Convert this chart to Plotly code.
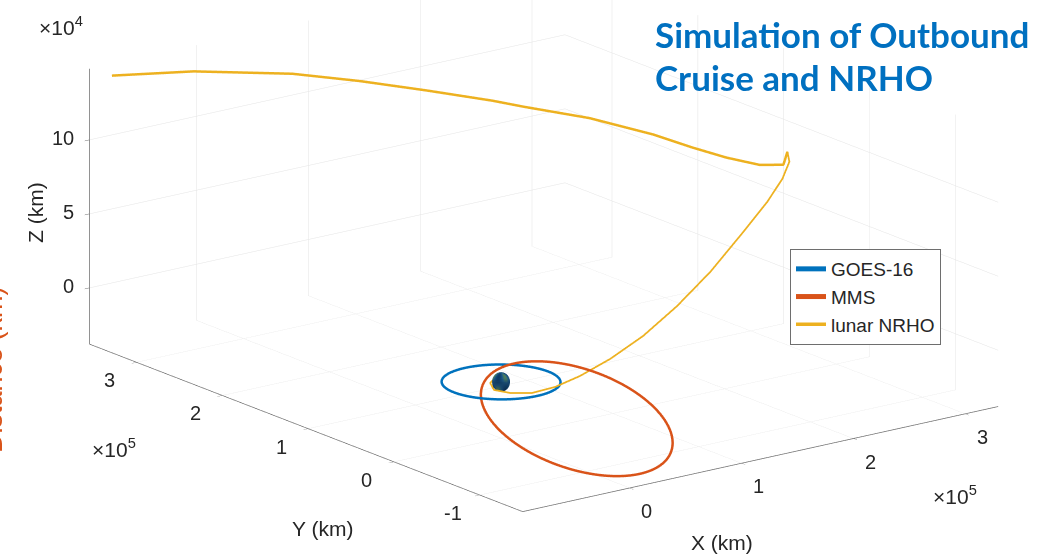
import numpy as np
import plotly.graph_objects as go

# ---------------- data ----------------
EARTH_RADIUS_KM = 6378.0

# GOES-16 (geostationary)
goes_radius_km = 42164.0
goes_inclination_deg = 0.0

# MMS highly elliptical orbit (elements)
mms_semimajor_km = 83000.0
mms_eccentricity = 0.86
mms_inclination_deg = 27.8
mms_raan_deg = 301.0
mms_argp_deg = 159.0

# lunar NRHO outbound cruise trajectory waypoints (km)
nrho_x_km = [6600, -7700, -15800, -11100, 1400, 19000, 42900, 69800, 100600,
             140200, 183000, 234600, 272800, 302200, 318200, 327500, 321300,
             323300, 313600, 302300, 287500, 260400, 228800, 211600, 172800,
             128900, 80400, -3300, -86600]
nrho_y_km = [13200, 2700, -12400, -25000, -34300, -38200, -36200, -36200, -34500,
             -22600, -5400, 23300, 45200, 65900, 78600, 93000, 89600,
             119800, 145700, 170700, 198000, 236300, 270900, 285900, 312200,
             333200, 348300, 354000, 340700]
nrho_z_km = [0, 0, 0, 0, 0, 2000, 5000, 12000, 22000,
             33000, 45000, 57000, 66000, 72000, 78000, 80000, 73000,
             65800, 66500, 69600, 74900, 81800, 86900, 90600, 98100,
             107100, 116700, 131000, 145000]
nrho_arrival_index = 15   # start of the NRHO (Moon-following) part

x_range = [-95800, 329500]
y_range = [-150000, 354800]
z_range = [-38000, 148000]
x_ticks = [0, 100000, 200000, 300000]
x_ticklabels = ['0', '1', '2', '3']
y_ticks = [-100000, 0, 100000, 200000, 300000]
y_ticklabels = ['-1', '0', '1', '2', '3']
z_ticks = [0, 50000, 100000]
z_ticklabels = ['0', '5', '10']

C_BLUE = '#0072BD'
C_ORANGE = '#D95319'
C_YELLOW = '#EDB120'


def kepler_orbit(a, e, inc, raan, argp, n=400):
    E = np.linspace(0, 2 * np.pi, n)
    b = a * np.sqrt(1 - e ** 2)
    xp = a * (np.cos(E) - e)
    yp = b * np.sin(E)
    i, O, w = np.radians([inc, raan, argp])
    P = np.array([np.cos(O) * np.cos(w) - np.sin(O) * np.sin(w) * np.cos(i),
                  np.sin(O) * np.cos(w) + np.cos(O) * np.sin(w) * np.cos(i),
                  np.sin(w) * np.sin(i)])
    Q = np.array([-np.cos(O) * np.sin(w) - np.sin(O) * np.cos(w) * np.cos(i),
                  -np.sin(O) * np.sin(w) + np.cos(O) * np.cos(w) * np.cos(i),
                  np.cos(w) * np.sin(i)])
    r = np.outer(xp, P) + np.outer(yp, Q)
    return r[:, 0], r[:, 1], r[:, 2]


gx, gy, gz = kepler_orbit(goes_radius_km, 0.0, goes_inclination_deg, 0.0, 0.0)
mx, my, mz = kepler_orbit(mms_semimajor_km, mms_eccentricity, mms_inclination_deg,
                          mms_raan_deg, mms_argp_deg)

fig = go.Figure()

# Earth
uu, vv = np.meshgrid(np.linspace(0, 2 * np.pi, 40), np.linspace(0, np.pi, 20))
ex = EARTH_RADIUS_KM * np.cos(uu) * np.sin(vv)
ey = EARTH_RADIUS_KM * np.sin(uu) * np.sin(vv)
ez = EARTH_RADIUS_KM * np.cos(vv)
fig.add_trace(go.Surface(x=ex, y=ey, z=ez, surfacecolor=np.sin(3 * uu) * np.sin(2 * vv),
                         colorscale=[[0, '#0d3a66'], [0.6, '#1d5a8a'], [1, '#4f7f5a']],
                         showscale=False, showlegend=False, hoverinfo='skip',
                         lighting=dict(ambient=0.8, diffuse=0.5, specular=0.2)))

fig.add_trace(go.Scatter3d(x=gx, y=gy, z=gz, mode='lines', name='GOES-16',
                           line=dict(color=C_BLUE, width=5)))
fig.add_trace(go.Scatter3d(x=mx, y=my, z=mz, mode='lines', name='MMS',
                           line=dict(color=C_ORANGE, width=5)))
fig.add_trace(go.Scatter3d(x=nrho_x_km, y=nrho_y_km, z=nrho_z_km, mode='lines',
                           name='lunar NRHO', line=dict(color=C_YELLOW, width=3.5)))
k = nrho_arrival_index
fig.add_trace(go.Scatter3d(x=nrho_x_km[k:], y=nrho_y_km[k:], z=nrho_z_km[k:], mode='lines',
                           showlegend=False, hoverinfo='skip',
                           line=dict(color=C_YELLOW, width=5)))

axis_common = dict(showbackground=False, gridcolor='#e4e4e4', gridwidth=1,
                   showline=True, linecolor='#6e6e6e', linewidth=1.5, zeroline=False,
                   ticks='outside', ticklen=6, tickcolor='#6e6e6e', showticklabels=False,
                   title=dict(text=''), showspikes=False, autorange=False)

tickfont = dict(family='Liberation Sans, Arial, sans-serif', size=20, color='#262626')
scene_notes = []
for v, t in zip(y_ticks, y_ticklabels):
    scene_notes.append(dict(x=x_range[0], y=v, z=z_range[0], text=t, showarrow=False,
                            xanchor='center', yanchor='middle', xshift=-27, yshift=-18,
                            font=tickfont))
for v, t in zip(x_ticks, x_ticklabels):
    scene_notes.append(dict(x=v, y=y_range[0], z=z_range[0], text=t, showarrow=False,
                            xanchor='center', yanchor='middle', xshift=17, yshift=-23,
                            font=tickfont))
for v, t in zip(z_ticks, z_ticklabels):
    scene_notes.append(dict(x=x_range[0], y=y_range[1], z=v, text=t, showarrow=False,
                            xanchor='right', yanchor='middle', xshift=-14, yshift=2,
                            font=tickfont))

s = 2.148
view_dir = np.array([-0.576, -0.762, 0.292])
cam_center = np.array([-0.0986, 0.015, -0.1356])
cam_eye = cam_center + 8.0 * view_dir
fig.update_layout(
    width=1039, height=555, margin=dict(l=0, r=0, t=0, b=0),
    paper_bgcolor='white',
    scene=dict(
        domain=dict(x=[0, 1], y=[0, 1]),
        xaxis=dict(range=x_range, tickvals=x_ticks, **axis_common),
        yaxis=dict(range=y_range, tickvals=y_ticks, **axis_common),
        zaxis=dict(range=z_range, tickvals=z_ticks, **axis_common),
        aspectmode='manual', aspectratio=dict(x=1.0 * s, y=1.205 * s, z=0.483 * s),
        camera=dict(eye=dict(x=cam_eye[0], y=cam_eye[1], z=cam_eye[2]),
                    up=dict(x=0, y=0, z=1),
                    center=dict(x=cam_center[0], y=cam_center[1], z=cam_center[2]),
                    projection=dict(type='orthographic')),
        annotations=scene_notes,
    ),
    legend=dict(x=790 / 1039, y=1 - 249 / 555, xanchor='left', yanchor='top',
                bgcolor='white', bordercolor='#6e6e6e', borderwidth=1, tracegroupgap=0,
                font=dict(family='Liberation Sans, Arial, sans-serif', size=19, color='#262626')),
    showlegend=True,
)

lab = dict(family='Liberation Sans, Arial, sans-serif', size=21, color='#262626')


def note(text, px, py, **kw):
    fig.add_annotation(text=text, xref='paper', yref='paper', x=px / 1039, y=1 - py / 555,
                       showarrow=False, **kw)


title_font = dict(family='Lato, sans-serif', size=35, color='#0070C0')
note('<b>Simulation of Outbound</b>', 653, 33.5, xanchor='left', yanchor='middle', font=title_font)
note('<b>Cruise and NRHO</b>', 653, 76.5, xanchor='left', yanchor='middle', font=title_font)
note('Z (km)', 35, 213, xanchor='center', yanchor='middle', textangle=-90, font=lab)
note('Y (km)', 322, 528, xanchor='center', yanchor='middle', font=lab)
note('X (km)', 722, 542, xanchor='center', yanchor='middle', font=lab)
note('×10<sup>5</sup>', 114, 448, xanchor='center', yanchor='middle', font=lab)
note('×10<sup>5</sup>', 955, 495, xanchor='center', yanchor='middle', font=lab)
note('×10<sup>4</sup>', 61, 26, xanchor='center', yanchor='middle', font=lab)
note('Distance (km)', 0, 370, xanchor='center', yanchor='middle', xshift=-7, textangle=-90,
     font=dict(family='Liberation Sans, Arial, sans-serif', size=27, color=C_ORANGE))

fig.write_html('out.html', config={'displayModeBar': False},
               post_script="document.body.style.margin='0px';document.body.style.overflow='hidden';")
